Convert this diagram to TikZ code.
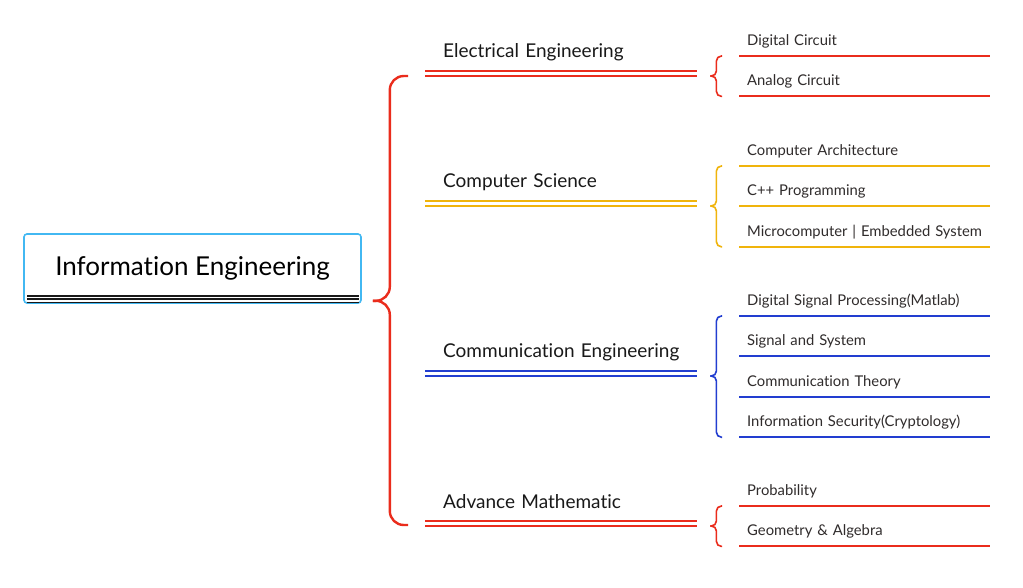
\documentclass[tikz,border=0pt]{standalone}
\usepackage{fontspec}
\setmainfont{Lato}[Ligatures=NoCommon]
\usepackage{tikz}
\usetikzlibrary{positioning, calc}
\definecolor{mapaRojo}{RGB}{234, 44, 28}
\definecolor{mapaAmarillo}{RGB}{240, 180, 12}
\definecolor{mapaAzul}{RGB}{34, 62, 208}
\definecolor{mapaCeleste}{RGB}{66, 184, 242}
\definecolor{mapaTexto}{RGB}{48, 44, 44}

\begin{document}
\begin{tikzpicture}[x=1pt, y=1pt,
        raiz/.style={rectangle, rounded corners=3pt, draw=mapaCeleste, line width=1.6pt, minimum width=337pt, minimum height=69pt, font=\fontsize{26}{30}\selectfont},
        rama/.style={anchor=south west, minimum width=272pt, minimum height=43pt, inner xsep=18pt, inner ysep=0pt, text width=236pt, align=left, font=\fontsize{19}{22}\selectfont, text=black!90},
        hoja/.style={anchor=south west, minimum height=29pt, inner xsep=8pt, inner ysep=0pt, text width=235pt, align=left, font=\fontsize{14.8}{17}\selectfont, text=mapaTexto},
        doble/.style={line width=2pt, double=white, double distance=3pt},
        linea/.style={line width=2pt},
        llave/.style={line width=2.4pt, rounded corners=14pt},
        llavita/.style={line width=1.6pt, rounded corners=5pt}]

        \fill[white] (0,0) rectangle (1023,-587);
        \useasboundingbox (0,0) rectangle (1023,-587);

        % Raiz
        \node[raiz] (root) at (192.5,-268.5) {Information Engineering\\[4pt]};
        \draw[line width=1.8pt, black!90] ($(root.south west)+(4,8)$) -- ($(root.south east)+(-3,8)$);
        \draw[line width=1.8pt, black!90] ($(root.south west)+(4,4.7)$) -- ($(root.south east)+(-3,4.7)$);
        \draw[line width=1.8pt, black!90] ($(root.south west)+(4,1.4)$) -- ($(root.south east)+(-3,1.4)$);
        \coordinate (nudo) at ($(root.south east)+(11,3)$);

        % Ramas
        \node[rama] (elec) at (425,-73.5) {Electrical Engineering};
        \node[rama] (comp) at (425,-203.5) {Computer Science};
        \node[rama] (comm) at (425,-373.5) {\mbox{Communication Engineering}};
        \node[rama] (mate) at (425,-523.5) {Advance Mathematic};

        \draw[doble, mapaRojo] (elec.south west) -- (elec.south east);
        \draw[doble, mapaAmarillo] (comp.south west) -- (comp.south east);
        \draw[doble, mapaAzul] (comm.south west) -- (comm.south east);
        \draw[doble, mapaRojo] (mate.south west) -- (mate.south east);

        % Llave principal
        \draw[llave, mapaRojo] ($(elec.south west)+(-17,-2.5)$) -| ($(nudo)+(17,0)$) -- (nudo);
        \draw[llave, mapaRojo] (nudo) -- ($(nudo)+(17,0)$) |- ($(mate.south west)+(-17,-1.5)$);

        % Hojas
        \node[hoja] (dc) at (739,-56) {Digital Circuit};
        \node[hoja, below=11pt of dc] (ac) {Analog Circuit};

        \node[hoja] (arq) at (739,-166) {Computer Architecture};
        \node[hoja, below=11pt of arq] (cpp) {C++ Programming};
        \node[hoja, below=11pt of cpp] (mcu) {Microcomputer | Embedded System};

        \node[hoja] (dsp) at (739,-316) {Digital Signal Processing(Matlab)};
        \node[hoja, below=11pt of dsp] (sys) {Signal and System};
        \node[hoja, below=11pt of sys] (teo) {Communication Theory};
        \node[hoja, below=11pt of teo] (seg) {Information Security(Cryptology)};

        \node[hoja] (prob) at (739,-506) {Probability};
        \node[hoja, below=11pt of prob] (geo) {Geometry \& Algebra};

        \foreach \h in {dc, ac, prob, geo}
            \draw[linea, mapaRojo] (\h.south west) -- (\h.south east);
        \foreach \h in {arq, cpp, mcu}
            \draw[linea, mapaAmarillo] (\h.south west) -- (\h.south east);
        \foreach \h in {dsp, sys, teo, seg}
            \draw[linea, mapaAzul] (\h.south west) -- (\h.south east);

        % Llaves pequenas
        \coordinate (pe) at ($(elec.south east)+(13,-2.5)$);
        \draw[llavita, mapaRojo] ($(dc.south west)+(-17,0)$) -| ($(pe)+(6,0)$) -- (pe);
        \draw[llavita, mapaRojo] (pe) -- ($(pe)+(6,0)$) |- ($(ac.south west)+(-17,0)$);

        \coordinate (pc) at ($(comp.south east)+(13,-2.5)$);
        \draw[llavita, mapaAmarillo] ($(arq.south west)+(-17,0)$) -| ($(pc)+(6,0)$) -- (pc);
        \draw[llavita, mapaAmarillo] (pc) -- ($(pc)+(6,0)$) |- ($(mcu.south west)+(-17,0)$);

        \coordinate (pm) at ($(comm.south east)+(13,-2.5)$);
        \draw[llavita, mapaAzul] ($(dsp.south west)+(-17,0)$) -| ($(pm)+(6,0)$) -- (pm);
        \draw[llavita, mapaAzul] (pm) -- ($(pm)+(6,0)$) |- ($(seg.south west)+(-17,0)$);

        \coordinate (pa) at ($(mate.south east)+(13,-2.5)$);
        \draw[llavita, mapaRojo] ($(prob.south west)+(-17,0)$) -| ($(pa)+(6,0)$) -- (pa);
        \draw[llavita, mapaRojo] (pa) -- ($(pa)+(6,0)$) |- ($(geo.south west)+(-17,0)$);
    \end{tikzpicture}
\end{document}
